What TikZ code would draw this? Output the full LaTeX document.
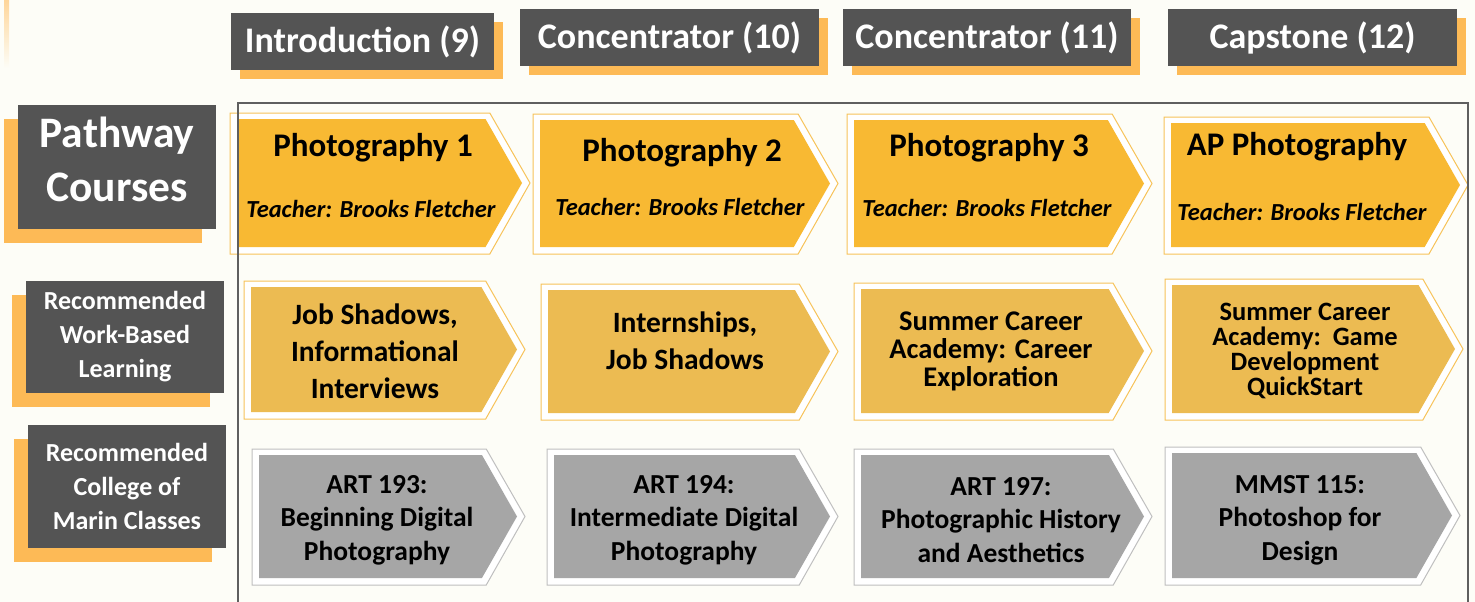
\documentclass[tikz,border=0pt]{standalone}
\usepackage{fontspec}
\setmainfont{Carlito}
\usetikzlibrary{shadows}

\definecolor{bgcream}{HTML}{FDFDF7}
\definecolor{boxgray}{HTML}{545454}
\definecolor{shadeorange}{HTML}{FDBA56}
\definecolor{chevyellow}{HTML}{F8B933}
\definecolor{chevgold}{HTML}{ECBB52}
\definecolor{chevgray}{HTML}{A6A6A6}
\definecolor{edgeorange}{HTML}{F7C35A}
\definecolor{edgegray}{HTML}{BFBFBF}
\definecolor{framegray}{HTML}{5F5F5F}

\tikzstyle{hdr} = [rectangle, fill=boxgray, text=white, minimum height=57pt, inner sep=0pt, font=\fontsize{36}{40}\selectfont\bfseries, drop shadow={shadow xshift=9pt, shadow yshift=-9pt, fill=shadeorange, opacity=1}]
\tikzstyle{side} = [rectangle, fill=boxgray, text=white, minimum width=198pt, align=center, inner sep=0pt, drop shadow={shadow xshift=-14pt, shadow yshift=-14pt, fill=shadeorange, opacity=1}]
\tikzstyle{sidetext} = [text=white, align=center, font=\fontsize{26}{34}\selectfont\bfseries]
\tikzstyle{course} = [font=\fontsize{33}{36}\selectfont\bfseries]
\tikzstyle{teacher} = [font=\fontsize{24.5}{27}\selectfont\bfseries\itshape]
\tikzstyle{wbl} = [align=center, font=\fontsize{29.5}{37}\selectfont\bfseries]
\tikzstyle{wbltight} = [align=center, font=\fontsize{28.5}{28}\selectfont\bfseries]
\tikzstyle{com} = [align=center, font=\fontsize{27.5}{33.5}\selectfont\bfseries]
\tikzstyle{frame} = [draw=framegray, line width=2.5pt]
\tikzstyle{yel} = [fill=chevyellow]
\tikzstyle{gold} = [fill=chevgold]
\tikzstyle{grey} = [fill=chevgray]
\tikzstyle{yel outer} = [fill=white, draw=edgeorange, line width=1pt]
\tikzstyle{gold outer} = [fill=white, draw=edgeorange, line width=1pt]
\tikzstyle{grey outer} = [fill=white, draw=edgegray, line width=1pt]

% chevron: left x, top y, tip x, bottom y, style
\newcommand{\chevbox}[5]{%
  \filldraw[#5 outer] ({#1-7},{#2-6}) -- ({#3+8-0.285*(#4-#2+13)},{#2-6}) -- ({#3+8},{(#2+#4)/2})
    -- ({#3+8-0.285*(#4-#2+13)},{#4+7}) -- ({#1-7},{#4+7}) -- cycle;
  \fill[#5] (#1,#2) -- ({#3-0.285*(#4-#2)},#2) -- (#3,{(#2+#4)/2})
    -- ({#3-0.285*(#4-#2)},#4) -- (#1,#4) -- cycle;}

\begin{document}
\begin{tikzpicture}[x=1pt, y=-1pt]
    \useasboundingbox (0,0) rectangle (1475,602);
    \fill[bgcream] (0,0) rectangle (1475,602);
    \shade[top color=shadeorange!60, bottom color=bgcream] (4,0) rectangle (9,68);

    % year headers
    \node (intro) [hdr, minimum width=263pt] at (362.5,41.5) {Introduction (9)};
    \node (conc1) [hdr, minimum width=299pt] at (669.5,38) {Concentrator (10)};
    \node (conc2) [hdr, minimum width=288pt] at (987,38) {Concentrator (11)};
    \node (cap)   [hdr, minimum width=289pt] at (1312.5,38) {Capstone (12)};

    % row labels
    \node (pathway) [side, minimum height=124pt] at (117,167) {};
    \node (pathwaylbl) [sidetext, font=\fontsize{43.5}{54}\selectfont\bfseries] at (117,159) {Pathway\\Courses};
    \node (wbl) [side, minimum height=112pt] at (125,337) {};
    \node (wbllbl) [sidetext] at (125,337) {Recommended\\Work-Based\\Learning};
    \node (com) [side, minimum height=123pt] at (127,486.5) {};
    \node (comlbl) [sidetext] at (127,486) {Recommended\\College of\\Marin Classes};

    % chevrons
    \chevbox{237}{119}{522}{247}{yel}
    \chevbox{540}{120}{830}{247}{yel}
    \chevbox{854}{120}{1144}{247}{yel}
    \chevbox{1171}{123}{1460}{247}{yel}

    \chevbox{251}{287}{517}{412}{gold}
    \chevbox{548}{290}{830}{413}{gold}
    \chevbox{861}{289}{1144}{413}{gold}
    \chevbox{1172}{285}{1455}{413}{gold}

    \chevbox{259}{455}{517}{578}{grey}
    \chevbox{554}{455}{830}{578}{grey}
    \chevbox{861}{455}{1144}{578}{grey}
    \chevbox{1172}{453}{1452}{578}{grey}

    \draw[frame] (238,602) -- (238,103) -- (1468,103) -- (1468,602);

    % pathway courses
    \node (ph1) [course] at (373,148) {Photography 1};
    \node (ph2) [course] at (682,153) {Photography 2};
    \node (ph3) [course] at (989,148) {Photography 3};
    \node (ap)  [course] at (1297,147) {AP Photography};
    \node (t1) [teacher] at (371,209) {Teacher: Brooks Fletcher};
    \node (t2) [teacher] at (680,207) {Teacher: Brooks Fletcher};
    \node (t3) [teacher] at (987,208) {Teacher: Brooks Fletcher};
    \node (t4) [teacher] at (1302,212) {Teacher: Brooks Fletcher};

    % work-based learning
    \node (w1) [wbl] at (375,351) {Job Shadows,\\Informational\\Interviews};
    \node (w2) [wbl] at (685,341) {Internships,\\Job Shadows};
    \node (w3) [wbltight] at (991,351) {Summer Career\\Academy: Career\\Exploration};
    \node (w4) [align=center, font=\fontsize{26.5}{25}\selectfont\bfseries] at (1305,351) {Summer Career\\Academy:\ \ Game\\Development\\QuickStart};

    % college of marin
    \node (c1) [com] at (377,520) {ART 193:\\Beginning Digital\\Photography};
    \node (c2) [com] at (684,520) {ART 194:\\Intermediate Digital\\Photography};
    \node (c3) [com] at (1001,520) {ART 197:\\Photographic History\\and Aesthetics};
    \node (c4) [com] at (1300,520) {MMST 115:\\Photoshop for\\Design};
\end{tikzpicture}
\end{document}
